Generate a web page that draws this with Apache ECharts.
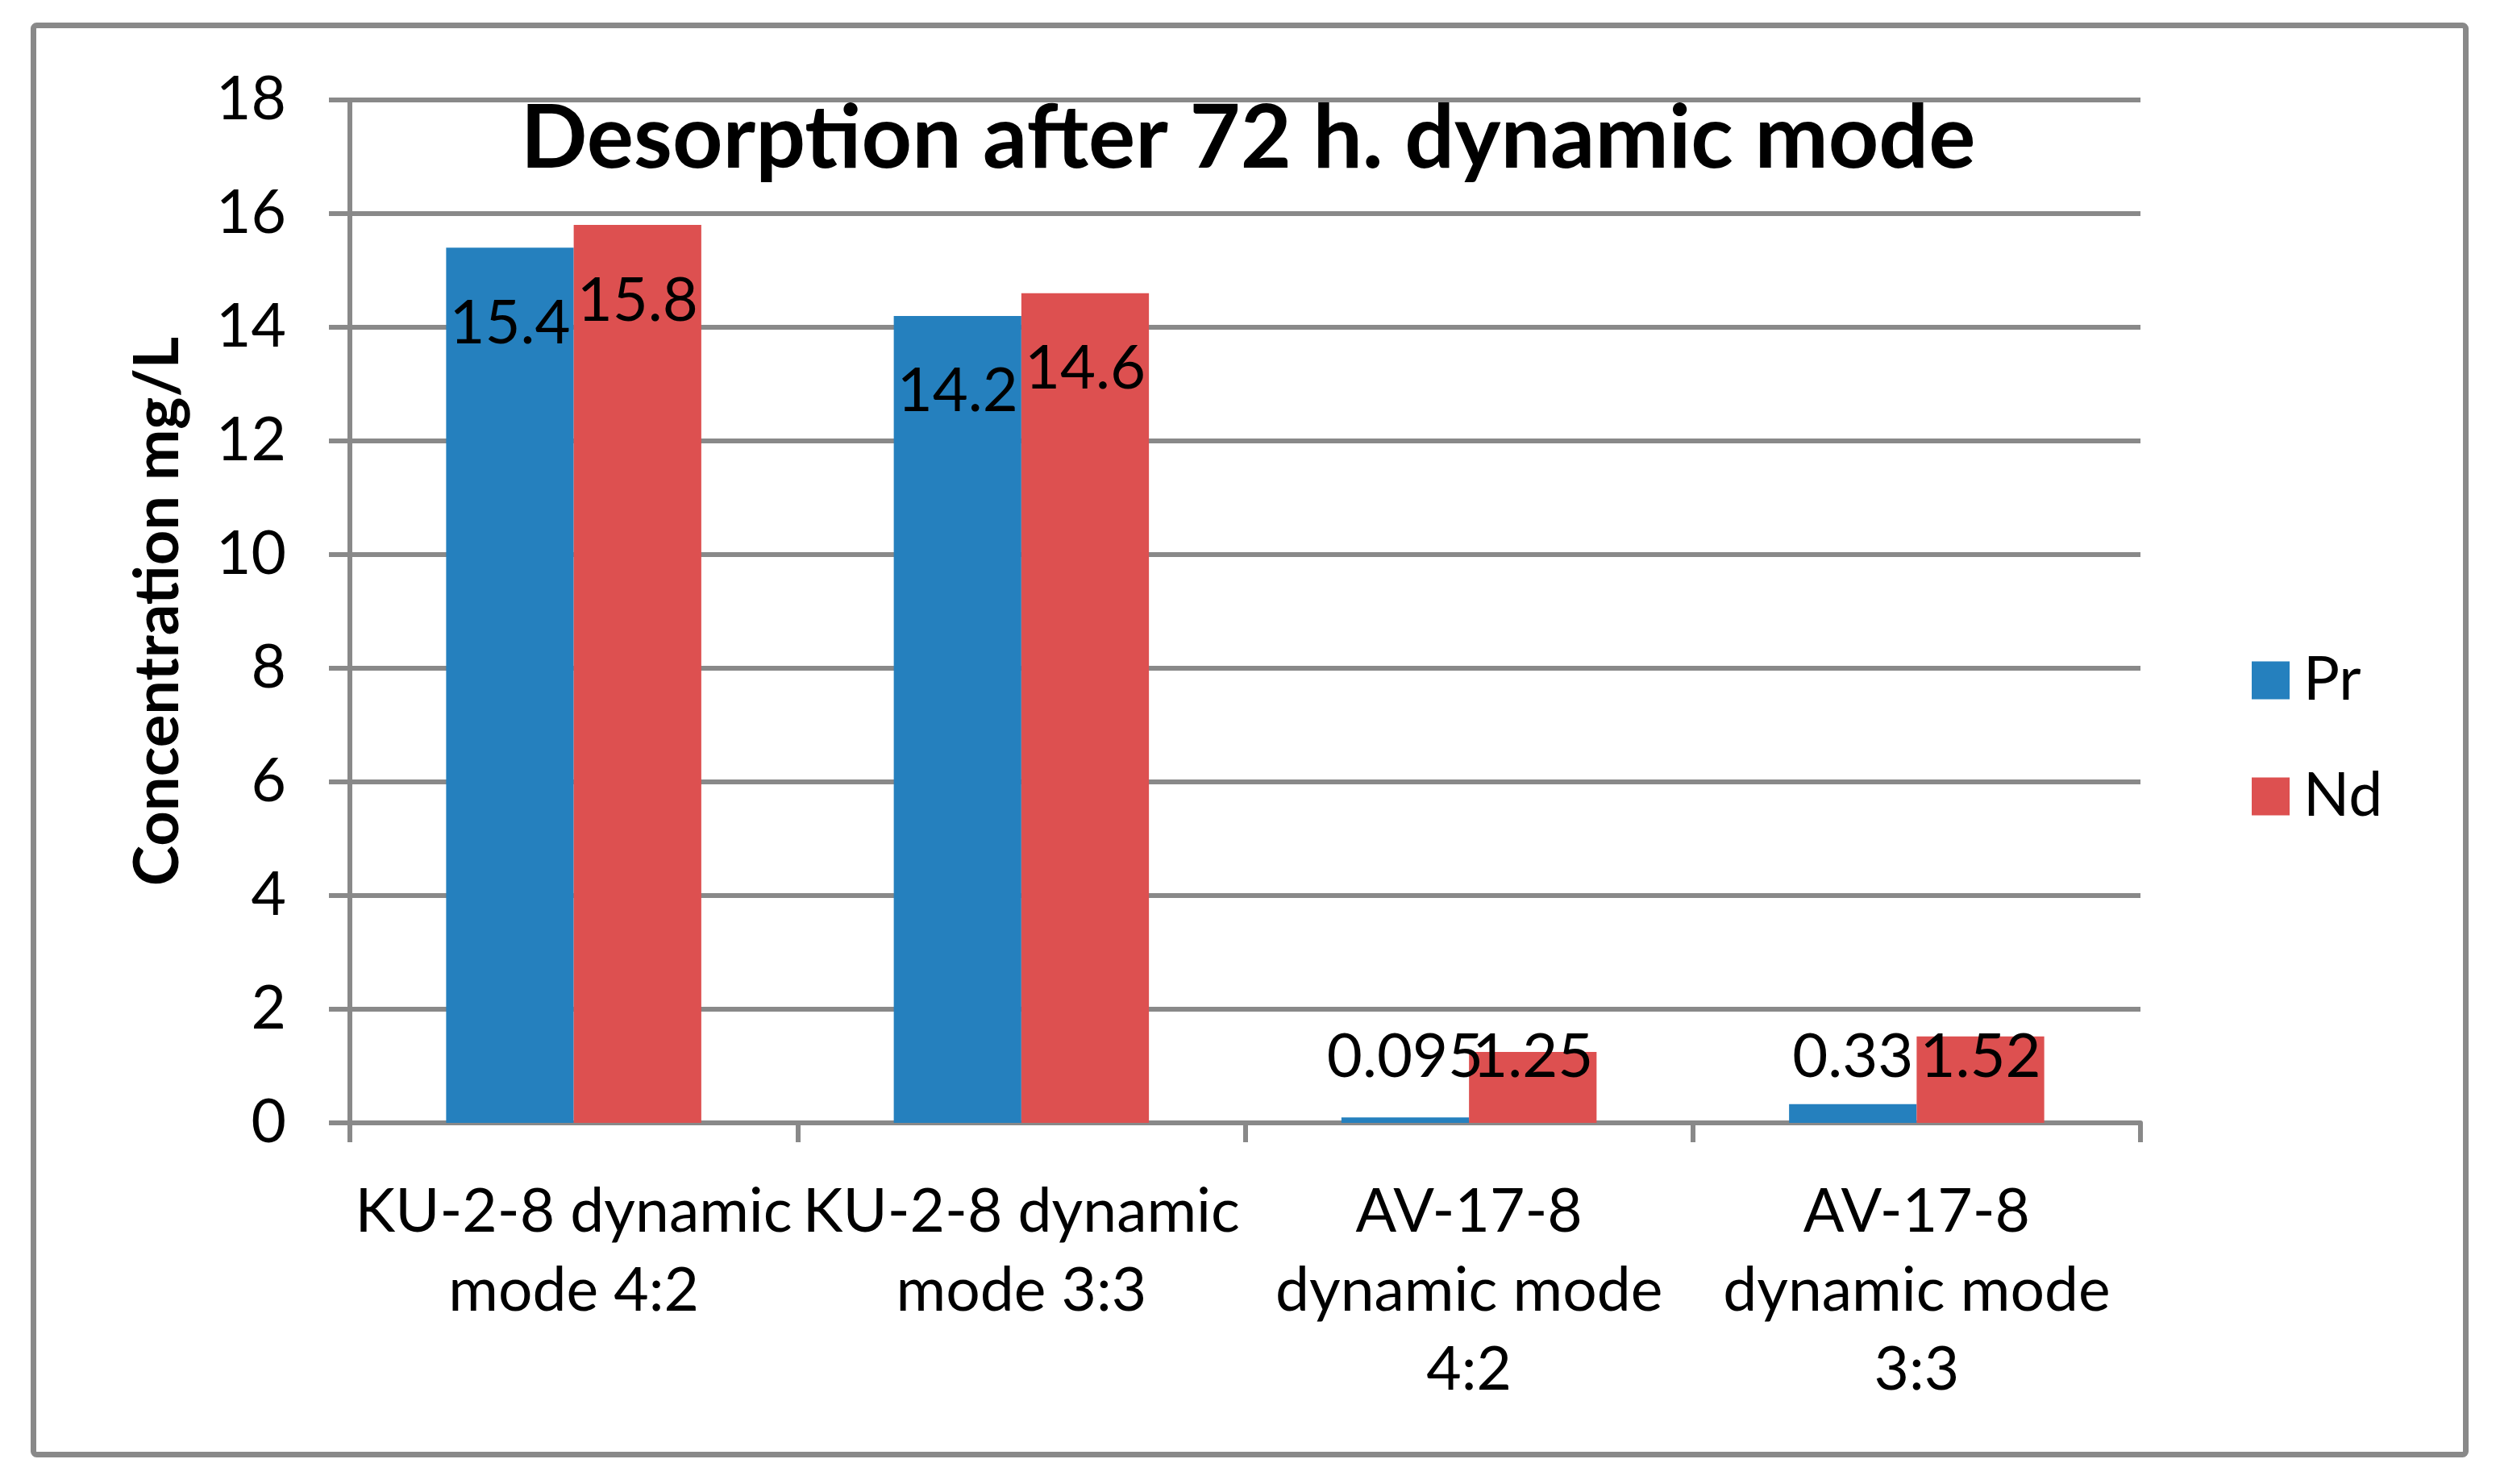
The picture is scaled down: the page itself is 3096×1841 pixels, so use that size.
<!DOCTYPE html>
<html><head><meta charset="utf-8">
<script src="https://cdn.jsdelivr.net/npm/echarts@6/dist/echarts.min.js"></script>
<style>html,body{margin:0;padding:0;background:#fff}#c{width:3096px;height:1841px}</style>
</head><body><div id="c"></div>
<script>
const titleText = 'Desorption after 72 h. dynamic mode';
const yAxisName = 'Concentration mg/L';
const categories = ['KU-2-8 dynamic\nmode 4:2', 'KU-2-8 dynamic\nmode 3:3', 'AV-17-8\ndynamic mode\n4:2', 'AV-17-8\ndynamic mode\n3:3'];
const seriesNames = ['Pr', 'Nd'];
const prValues = [15.4, 14.2, 0.095, 0.33];
const ndValues = [15.8, 14.6, 1.25, 1.52];
const yMin = 0, yMax = 18, yStep = 2;

const FONT = 'Lato';
const GRAY = '#898989';
const colors = ['#2580be', '#dd5050'];

function toData(vals) {
  return vals.map(v => ({
    value: v,
    label: v > 5 ? { position: 'insideTop', distance: 56 } : { position: 'insideBottom', distance: 44 }
  }));
}

const chart = echarts.init(document.getElementById('c'), null, { renderer: 'canvas' });
chart.setOption({
  animation: false,
  backgroundColor: '#fff',
  color: colors,
  title: {
    text: titleText, left: 'center', top: 108,
    textStyle: { fontFamily: FONT, fontWeight: 'bold', fontSize: 109, color: '#000', lineHeight: 120 }
  },
  graphic: [{
    type: 'rect', left: 38, top: 28, z: -1,
    shape: { width: 3017, height: 1773, r: 4 },
    style: { fill: 'none', stroke: GRAY, lineWidth: 7 }
  }],
  legend: {
    orient: 'vertical', left: 2788, top: 799,
    icon: 'rect', itemWidth: 47, itemHeight: 47, itemGap: 64,
    textStyle: { fontFamily: FONT, fontSize: 75, color: '#000', lineHeight: 80, padding: [0, 0, 0, 12] },
    data: seriesNames
  },
  grid: { left: 434, right: 441, top: 124, bottom: 448, containLabel: false },
  xAxis: {
    type: 'category', data: categories,
    axisLine: { lineStyle: { color: GRAY, width: 6 } },
    axisTick: { show: true, length: 24, alignWithLabel: false, interval: 0, lineStyle: { color: GRAY, width: 6 } },
    axisLabel: { interval: 0, margin: 62, fontFamily: FONT, fontSize: 75, lineHeight: 98, color: '#000', verticalAlign: 'top' }
  },
  yAxis: {
    type: 'value', min: yMin, max: yMax, interval: yStep,
    name: yAxisName, nameLocation: 'middle', nameRotate: 90, nameGap: 200,
    nameTextStyle: { fontFamily: FONT, fontWeight: 'bold', fontSize: 76, color: '#000' },
    axisLine: { show: true, lineStyle: { color: GRAY, width: 6 } },
    axisTick: { show: true, length: 26, lineStyle: { color: GRAY, width: 6 } },
    splitLine: { show: true, lineStyle: { color: GRAY, width: 6 } },
    axisLabel: { margin: 79, fontFamily: FONT, fontSize: 75, color: '#000' }
  },
  series: [
    { name: seriesNames[0], type: 'bar', data: toData(prValues), barGap: '0%', barCategoryGap: '43%',
      label: { show: true, fontFamily: FONT, fontSize: 76, color: '#000' } },
    { name: seriesNames[1], type: 'bar', data: toData(ndValues), barGap: '0%', barCategoryGap: '43%',
      label: { show: true, fontFamily: FONT, fontSize: 76, color: '#000' } }
  ]
});
</script>
</body></html>
